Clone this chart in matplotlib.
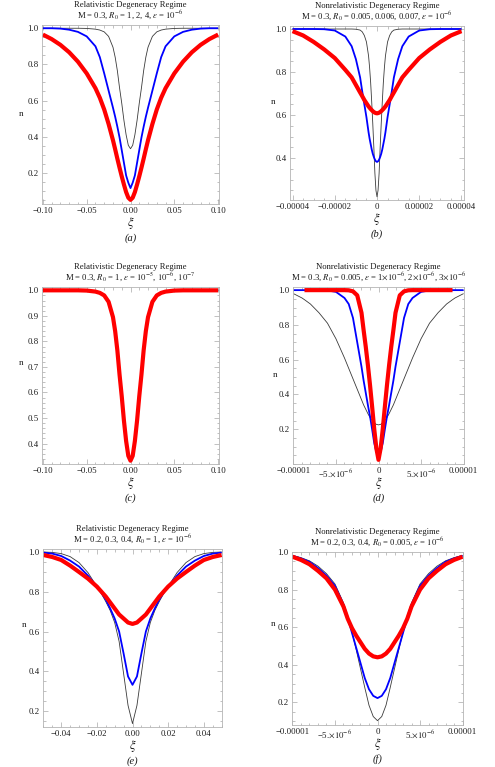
import numpy as np
import matplotlib
matplotlib.use('Agg')
import matplotlib.pyplot as plt
from matplotlib.ticker import FixedLocator, FixedFormatter, AutoMinorLocator

plt.rcParams['font.family'] = ['Liberation Serif', 'DejaVu Serif']
plt.rcParams['mathtext.fontset'] = 'stix'

# ---- values: half curves (xi >= 0), the profiles are symmetric ----
# (a) relativistic, M = 0.3, R0 = 1, 2, 4
xi_a = [0, 0.0025, 0.005, 0.0075, 0.01, 0.0125, 0.015, 0.0175, 0.02, 0.025,
        0.03, 0.035, 0.04, 0.05, 0.06, 0.07, 0.08, 0.09, 0.10]
n_a_R1 = [0.333, 0.352, 0.41, 0.49, 0.585, 0.67, 0.765, 0.84, 0.895, 0.955,
          0.98, 0.99, 0.995, 0.999, 1.0, 1.0, 1.0, 1.0, 1.0]
n_a_R2 = [0.115, 0.145, 0.185, 0.255, 0.325, 0.395, 0.455, 0.51, 0.56, 0.655,
          0.75, 0.84, 0.90, 0.955, 0.98, 0.992, 0.998, 1.0, 1.0]
n_a_R4 = [0.05, 0.062, 0.093, 0.135, 0.18, 0.228, 0.278, 0.33, 0.38, 0.47,
          0.55, 0.615, 0.668, 0.75, 0.815, 0.867, 0.908, 0.94, 0.965]

# (b) nonrelativistic, M = 0.3, R0 = 0.005, 0.006, 0.007  (xi in units of 1e-6)
xi_b = [0, 0.5, 1, 1.5, 2, 2.5, 3, 3.5, 4, 5, 6, 7, 8, 10, 12, 15, 20, 25, 30, 35, 40]
n_b_R5 = [0.22, 0.25, 0.33, 0.45, 0.56, 0.66, 0.75, 0.82, 0.875, 0.94, 0.97,
          0.987, 0.995, 0.999, 1.0, 1.0, 1.0, 1.0, 1.0, 1.0, 1.0]
n_b_R6 = [0.382, 0.385, 0.393, 0.405, 0.42, 0.44, 0.465, 0.49, 0.52, 0.59, 0.65,
          0.71, 0.775, 0.86, 0.92, 0.965, 0.993, 0.999, 1.0, 1.0, 1.0]
n_b_R7 = [0.608, 0.609, 0.611, 0.614, 0.618, 0.623, 0.628, 0.634, 0.64, 0.655, 0.67,
          0.688, 0.705, 0.74, 0.775, 0.81, 0.865, 0.905, 0.94, 0.97, 0.99]

# (c) relativistic, M = 0.3, R0 = 1, eps = 1e-5, 1e-6, 1e-7 (curves coincide)
xi_c = xi_a
n_c = [0.333, 0.352, 0.41, 0.49, 0.585, 0.67, 0.765, 0.84, 0.895, 0.955,
       0.98, 0.99, 0.995, 0.999, 1.0, 1.0, 1.0, 1.0, 1.0]

# (d) nonrelativistic, M = 0.3, R0 = 0.005, eps = 1, 2, 3 x 1e-6  (xi in units of 1e-6)
xi_d = [0, 0.25, 0.5, 0.75, 1, 1.25, 1.5, 1.75, 2, 2.5, 3, 3.5, 4, 5, 6, 7, 8, 8.7, 9, 10]
n_d_e1 = [0.225, 0.228, 0.236, 0.25, 0.268, 0.29, 0.315, 0.34, 0.37, 0.43, 0.49,
          0.55, 0.61, 0.72, 0.81, 0.87, 0.92, 0.945, 0.955, 0.98]
n_d_e2 = [0.05, 0.07, 0.12, 0.2, 0.275, 0.34, 0.41, 0.48, 0.56, 0.7, 0.84,
          0.92, 0.955, 0.99, 0.998, 1.0, 1.0, 1.0, 1.0, 1.0]
xi_d_e3 = [0, 0.25, 0.5, 0.75, 1, 1.25, 1.5, 1.75, 2, 2.5, 3, 3.5, 4, 5, 6, 7, 8, 8.7]
n_d_e3 = [0.024, 0.09, 0.2, 0.33, 0.455, 0.57, 0.675, 0.77, 0.87, 0.97, 0.993,
          0.999, 1.0, 1.0, 1.0, 1.0, 1.0, 1.0]

# (e) relativistic, M = 0.2, 0.3, 0.4, R0 = 1
xi_e = [0, 0.0025, 0.005, 0.0075, 0.01, 0.0125, 0.015, 0.0175, 0.02, 0.025,
        0.03, 0.035, 0.04, 0.045, 0.05]
n_e_M2 = [0.139, 0.23, 0.39, 0.55, 0.645, 0.705, 0.75, 0.79, 0.825, 0.895,
          0.945, 0.975, 0.99, 0.996, 0.998]
n_e_M3 = [0.333, 0.375, 0.49, 0.6, 0.665, 0.715, 0.76, 0.795, 0.825, 0.88,
          0.925, 0.955, 0.978, 0.99, 0.995]
n_e_M4 = [0.638, 0.645, 0.665, 0.685, 0.715, 0.745, 0.775, 0.8, 0.825, 0.865,
          0.898, 0.93, 0.958, 0.973, 0.983]

# (f) nonrelativistic, M = 0.2, 0.3, 0.4, R0 = 0.005  (xi in units of 1e-6)
xi_f = [0, 0.5, 1, 1.5, 2, 2.5, 3, 3.5, 4, 5, 6, 7, 8, 9, 10]
n_f_M2 = [0.103, 0.125, 0.185, 0.28, 0.38, 0.48, 0.575, 0.66, 0.73, 0.83,
          0.885, 0.925, 0.953, 0.97, 0.982]
n_f_M3 = [0.223, 0.235, 0.27, 0.33, 0.41, 0.49, 0.57, 0.65, 0.72, 0.82,
          0.875, 0.915, 0.948, 0.966, 0.98]
n_f_M4 = [0.44, 0.445, 0.46, 0.485, 0.52, 0.555, 0.595, 0.645, 0.71, 0.80,
          0.86, 0.90, 0.935, 0.958, 0.975]

titles_top = ['Relativistic Degeneracy Regime', 'Nonrelativistic Degeneracy Regime'] * 3
titles_sub = [
    r'M = 0.3, $R_0$ = 1, 2, 4, $\epsilon$ = $10^{-6}$',
    r'M = 0.3, $R_0$ = 0.005, 0.006, 0.007, $\epsilon$ = $10^{-6}$',
    r'M = 0.3, $R_0$ = 1, $\epsilon$ = $10^{-5}$, $10^{-6}$, $10^{-7}$',
    r'M = 0.3, $R_0$ = 0.005, $\epsilon$ = 1$\times$$10^{-6}$, 2$\times$$10^{-6}$, 3$\times$$10^{-6}$',
    r'M = 0.2, 0.3, 0.4, $R_0$ = 1, $\epsilon$ = $10^{-6}$',
    r'M = 0.2, 0.3, 0.4, $R_0$ = 0.005, $\epsilon$ = $10^{-6}$',
]
letters = ['a', 'b', 'c', 'd', 'e', 'f']

xt_ac = [-0.1, -0.05, 0, 0.05, 0.1]
xl_ac = ['\u22120.10', '\u22120.05', '0.00', '0.05', '0.10']
xt_b = [-4e-5, -2e-5, 0, 2e-5, 4e-5]
xl_b = ['\u22120.00004', '\u22120.00002', '0', '0.00002', '0.00004']
xt_df = [-1e-5, -5e-6, 0, 5e-6, 1e-5]
xl_df = ['\u22120.00001', '\u22125.$\\times$$10^{-6}$', '0', '5.$\\times$$10^{-6}$', '0.00001']
xt_e = [-0.04, -0.02, 0, 0.02, 0.04]
xl_e = ['\u22120.04', '\u22120.02', '0.00', '0.02', '0.04']
yt_2 = [0.2, 0.4, 0.6, 0.8, 1.0]
yt_b = [0.4, 0.6, 0.8, 1.0]
yt_c = [0.4, 0.5, 0.6, 0.7, 0.8, 0.9, 1.0]


def mirror(x, y, scale=1.0):
    x = np.asarray(x, float) * scale
    y = np.asarray(y, float)
    return np.concatenate([-x[:0:-1], x]), np.concatenate([y[:0:-1], y])


W, H = 495, 767
fig = plt.figure(figsize=(W / 100, H / 100), dpi=100)

# axes boxes in pixels: left, top, right, bottom
boxes = [(42, 25, 219, 204), (290, 26, 464, 200),
         (42, 287, 219, 464), (293, 287, 464, 464),
         (43, 549, 222, 727), (292, 552, 463, 725)]
axs = []
for l, t, r, b in boxes:
    axs.append(fig.add_axes([l / W, 1 - b / H, (r - l) / W, (b - t) / H]))

c_blk, c_blu, c_red = '#3a3a3a', '#0000ff', '#ff0000'
lw_blk, lw_blu, lw_red = 0.6, 1.3, 3.0


def curves(ax, xi, ns, scale=1.0):
    for n, c, lw in zip(ns, (c_blk, c_blu, c_red), (lw_blk, lw_blu, lw_red)):
        if n is None:
            continue
        x, y = mirror(xi, n, scale)
        ax.plot(x, y, color=c, lw=lw, solid_capstyle='butt')


curves(axs[0], xi_a, [n_a_R1, n_a_R2, n_a_R4])
curves(axs[1], xi_b, [n_b_R5, n_b_R6, n_b_R7], 1e-6)
curves(axs[2], xi_c, [n_c, n_c, n_c])
curves(axs[3], xi_d, [n_d_e1, n_d_e2, None], 1e-6)
x, y = mirror(xi_d_e3, n_d_e3, 1e-6)
axs[3].plot(x, y, color=c_red, lw=lw_red, solid_capstyle='butt')
curves(axs[4], xi_e, [n_e_M2, n_e_M3, n_e_M4])
curves(axs[5], xi_f, [n_f_M2, n_f_M3, n_f_M4], 1e-6)

xlims = [(-0.101, 0.101), (-4.12e-5, 4.12e-5), (-0.101, 0.101),
         (-1.005e-5, 1.005e-5), (-0.0502, 0.0502), (-1.005e-5, 1.005e-5)]
ylims = [(0.027, 1.018), (0.205, 1.014), (0.32, 1.013),
         (0.0, 1.018), (0.122, 1.013), (0.08, 1.0)]
xticks = [(xt_ac, xl_ac, 5), (xt_b, xl_b, 4), (xt_ac, xl_ac, 5),
          (xt_df, xl_df, 5), (xt_e, xl_e, 4), (xt_df, xl_df, 5)]
yticks = [(yt_2, 4), (yt_b, 4), (yt_c, 5), (yt_2, 4), (yt_2, 4), (yt_2, 4)]
nlab = [(-0.12, 0.48), (-0.095, 0.54), (-0.12, 0.55), (-0.105, 0.48),
        (-0.106, 0.55), (-0.114, 0.56)]

for i, ax in enumerate(axs):
    ax.set_xlim(*xlims[i])
    ax.set_ylim(*ylims[i])
    xt, xl, xm = xticks[i]
    ax.xaxis.set_major_locator(FixedLocator(xt))
    ax.xaxis.set_major_formatter(FixedFormatter(xl))
    ax.xaxis.set_minor_locator(AutoMinorLocator(xm))
    yt, ym = yticks[i]
    ax.yaxis.set_major_locator(FixedLocator(yt))
    ax.yaxis.set_major_formatter(FixedFormatter(['%.1f' % v for v in yt]))
    ax.yaxis.set_minor_locator(AutoMinorLocator(ym))
    ax.tick_params(which='both', direction='in', top=True, right=True,
                   color='#a8a8a8', labelcolor='#1a1a1a', labelsize=6.3,
                   width=0.5, pad=2.5)
    ax.tick_params(which='major', length=3.5)
    ax.tick_params(which='minor', length=1.8)
    for s in ax.spines.values():
        s.set_color('#b4b4b4')
        s.set_linewidth(0.6)
    ax.set_ylabel('n', rotation=0, fontsize=6.5, color='#1a1a1a')
    ax.yaxis.set_label_coords(*nlab[i])
    ax.annotate(titles_top[i], xy=(0.5, 1), xycoords='axes fraction',
                xytext=(0, 20), textcoords='offset pixels',
                ha='center', va='center', fontsize=6.2, color='#1a1a1a')
    ax.annotate(titles_sub[i], xy=(0.5, 1), xycoords='axes fraction',
                xytext=(0, 10), textcoords='offset pixels',
                ha='center', va='center', fontsize=6.2, color='#1a1a1a')
    ax.annotate(r'$\xi$', xy=(0.5, 0), xycoords='axes fraction',
                xytext=(0, -19), textcoords='offset pixels',
                ha='center', va='center', fontsize=9, color='#1a1a1a')
    ax.annotate('(' + letters[i] + ')', xy=(0.5, 0), xycoords='axes fraction',
                xytext=(0, -34), textcoords='offset pixels',
                ha='center', va='center', fontsize=7.5, style='italic',
                color='#1a1a1a')

fig.savefig('out.png', dpi=100)
